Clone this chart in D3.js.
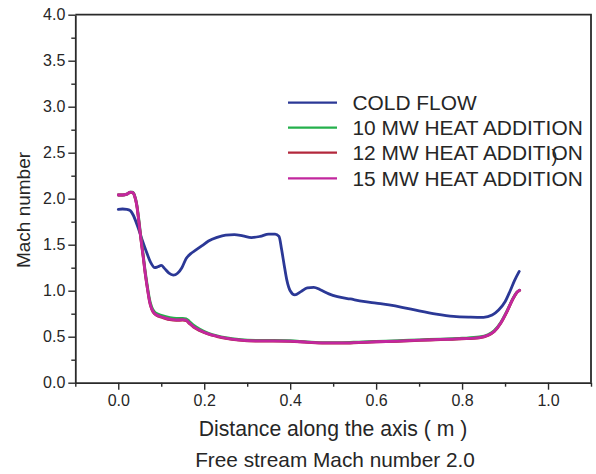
<!DOCTYPE html>
<html>
<head>
<meta charset="utf-8">
<script src="https://cdn.jsdelivr.net/npm/d3@7/dist/d3.min.js"></script>
<style>
  html, body { margin: 0; padding: 0; background: #fff; }
  svg { display: block; }
  text { font-family: "Liberation Sans", Arial, sans-serif; fill: #262626; }
</style>
</head>
<body>
<svg id="chart" width="596" height="474"></svg>
<script>
// Axial distance (m) and Mach number along the duct axis
const coldX = [0.000, 0.010, 0.020, 0.028, 0.035, 0.045, 0.055, 0.065, 0.075, 0.085,
  0.092, 0.100, 0.108, 0.118, 0.128, 0.138, 0.148, 0.158, 0.168, 0.180,
  0.195, 0.210, 0.230, 0.250, 0.270, 0.290, 0.310, 0.330, 0.350, 0.365,
  0.374, 0.380, 0.386, 0.392, 0.400, 0.411, 0.425, 0.440, 0.455, 0.470,
  0.490, 0.510, 0.540, 0.570, 0.600, 0.630, 0.660, 0.700, 0.740, 0.780,
  0.820, 0.850, 0.870, 0.885, 0.900, 0.912, 0.922, 0.933];
const coldMach = [1.885, 1.888, 1.885, 1.870, 1.820, 1.700, 1.560, 1.430, 1.310, 1.250,
  1.260, 1.275, 1.240, 1.190, 1.170, 1.190, 1.250, 1.350, 1.400, 1.440,
  1.490, 1.540, 1.580, 1.605, 1.610, 1.595, 1.577, 1.590, 1.615, 1.615,
  1.590, 1.450, 1.280, 1.120, 1.000, 0.955, 0.990, 1.030, 1.037, 1.010,
  0.965, 0.935, 0.910, 0.885, 0.865, 0.845, 0.820, 0.780, 0.745, 0.720,
  0.712, 0.710, 0.735, 0.790, 0.880, 1.000, 1.110, 1.210];

const heatX = [0.000, 0.010, 0.020, 0.028, 0.033, 0.038, 0.043, 0.048, 0.053, 0.058,
  0.063, 0.068, 0.073, 0.078, 0.085, 0.095, 0.105, 0.120, 0.135, 0.150,
  0.158, 0.165, 0.175, 0.190, 0.210, 0.230, 0.250, 0.280, 0.320, 0.360,
  0.400, 0.440, 0.480, 0.520, 0.560, 0.600, 0.650, 0.700, 0.750, 0.800,
  0.840, 0.860, 0.875, 0.890, 0.905, 0.918, 0.927, 0.934];
const mach10MW = [2.040, 2.040, 2.050, 2.070, 2.070, 2.035, 1.940, 1.770, 1.570, 1.390,
  1.200, 1.040, 0.900, 0.820, 0.765, 0.742, 0.727, 0.707, 0.698, 0.700,
  0.695, 0.668, 0.625, 0.580, 0.538, 0.510, 0.490, 0.470, 0.460, 0.460,
  0.456, 0.444, 0.436, 0.436, 0.442, 0.449, 0.456, 0.466, 0.474, 0.483,
  0.497, 0.522, 0.567, 0.655, 0.785, 0.912, 0.980, 1.005];
const mach12MW = [2.040, 2.040, 2.050, 2.068, 2.066, 2.028, 1.925, 1.745, 1.545, 1.365,
  1.175, 1.015, 0.875, 0.795, 0.745, 0.720, 0.705, 0.685, 0.678, 0.680,
  0.675, 0.645, 0.605, 0.565, 0.527, 0.502, 0.482, 0.462, 0.452, 0.452,
  0.449, 0.438, 0.430, 0.430, 0.436, 0.443, 0.450, 0.460, 0.468, 0.476,
  0.488, 0.512, 0.556, 0.646, 0.776, 0.906, 0.977, 1.003];
const mach15MW = [2.040, 2.040, 2.050, 2.070, 2.068, 2.030, 1.930, 1.750, 1.550, 1.370,
  1.180, 1.020, 0.880, 0.800, 0.750, 0.725, 0.710, 0.690, 0.682, 0.685,
  0.680, 0.650, 0.610, 0.570, 0.530, 0.505, 0.485, 0.465, 0.455, 0.455,
  0.452, 0.440, 0.432, 0.432, 0.438, 0.445, 0.452, 0.462, 0.470, 0.478,
  0.490, 0.515, 0.560, 0.650, 0.780, 0.910, 0.980, 1.005];

const seriesNames = ["COLD FLOW", "10 MW HEAT ADDITION", "12 MW HEAT ADDITION", "15 MW HEAT ADDITION"];
const seriesColors = ["#2b3896", "#25b04c", "#b3283c", "#c2279e"];

const xMajorTicks = [0.0, 0.2, 0.4, 0.6, 0.8, 1.0];
const xMinorTicks = [-0.1, 0.1, 0.3, 0.5, 0.7, 0.9, 1.1];
const yMajorTicks = [0.0, 0.5, 1.0, 1.5, 2.0, 2.5, 3.0, 3.5, 4.0];
const yMinorTicks = [0.25, 0.75, 1.25, 1.75, 2.25, 2.75, 3.25, 3.75];

const xLabel = "Distance along the axis ( m )";
const yLabel = "Mach number";
const caption = "Free stream Mach number 2.0";

const svg = d3.select("#chart");
const margin = { left: 75.3, top: 14.7, right: 5, bottom: 91.3 };
const W = 596, H = 474;

const x = d3.scaleLinear().domain([-0.1, 1.1]).range([margin.left, W - margin.right]);
const y = d3.scaleLinear().domain([0, 4]).range([H - margin.bottom, margin.top]);

const axisColor = "#2a2a2a";

// Bottom axis: major ticks with labels, minor ticks without
const gx = svg.append("g").attr("transform", `translate(0,${y(0)})`);
gx.call(d3.axisBottom(x).tickValues(xMajorTicks).tickFormat(d3.format(".1f"))
    .tickSizeInner(7).tickSizeOuter(0).tickPadding(5));
gx.append("g").call(d3.axisBottom(x).tickValues(xMinorTicks).tickFormat("")
    .tickSizeInner(4).tickSizeOuter(0)).select(".domain").remove();

const gy = svg.append("g").attr("transform", `translate(${x(-0.1)},0)`);
gy.call(d3.axisLeft(y).tickValues(yMajorTicks).tickFormat(d3.format(".1f"))
    .tickSizeInner(7).tickSizeOuter(0).tickPadding(3));
gy.append("g").call(d3.axisLeft(y).tickValues(yMinorTicks).tickFormat("")
    .tickSizeInner(4).tickSizeOuter(0)).select(".domain").remove();

svg.selectAll(".domain").attr("stroke", axisColor).attr("stroke-width", 1.8);
svg.selectAll(".tick line").attr("stroke", axisColor).attr("stroke-width", 1.4);
svg.selectAll(".tick text").attr("font-size", 16)
   .attr("font-family", "'Liberation Sans', Arial, sans-serif").attr("fill", "#262626");

// Top and right frame lines
svg.append("path")
  .attr("d", `M${x(-0.1)},${y(4)}H${x(1.1)}V${y(0)}`)
  .attr("fill", "none").attr("stroke", axisColor).attr("stroke-width", 1.8);

// Curves
const plot = svg.append("g");
const line = d3.line().x(d => x(d[0])).y(d => y(d[1])).curve(d3.curveMonotoneX);
const series = [
  d3.zip(coldX, coldMach),
  d3.zip(heatX, mach10MW),
  d3.zip(heatX, mach12MW),
  d3.zip(heatX, mach15MW)
];
series.forEach((pts, i) => {
  plot.append("path").datum(pts)
    .attr("d", line)
    .attr("fill", "none")
    .attr("stroke", seriesColors[i])
    .attr("stroke-width", 2.8)
    .attr("stroke-linejoin", "round")
    .attr("stroke-linecap", "round");
});

// Legend
const legend = svg.append("g");
const legendRows = [102.7, 127.7, 152.7, 178.3];
const legendSize = 20.9;
seriesNames.forEach((name, i) => {
  legend.append("line")
    .attr("x1", 288).attr("x2", 337)
    .attr("y1", legendRows[i]).attr("y2", legendRows[i])
    .attr("stroke", seriesColors[i]).attr("stroke-width", 2.2);
  const t = legend.append("text")
    .attr("x", 352.5).attr("y", legendRows[i] + 7.5)
    .attr("font-size", legendSize);
  if (i === 2) {
    // this entry carries a stray bracket sitting over the "O"
    const head = name.slice(0, name.length - 2);
    const tail = name.slice(name.length - 2);
    t.append("tspan").text(head);
    t.append("tspan").attr("dy", 2).attr("font-size", 18).text(")");
    t.append("tspan").attr("dy", -2).attr("dx", -6).text(tail);
  } else {
    t.text(name);
  }
});

// Axis titles
svg.append("text")
  .attr("x", 333).attr("y", 436)
  .attr("text-anchor", "middle")
  .attr("font-size", 21.2)
  .text(xLabel);

svg.append("text")
  .attr("transform", `translate(30,210) rotate(-90)`)
  .attr("text-anchor", "middle")
  .attr("font-size", 19)
  .text(yLabel);

svg.append("text")
  .attr("x", 335).attr("y", 467)
  .attr("text-anchor", "middle")
  .attr("font-size", 20.8)
  .text(caption);
</script>
</body>
</html>
